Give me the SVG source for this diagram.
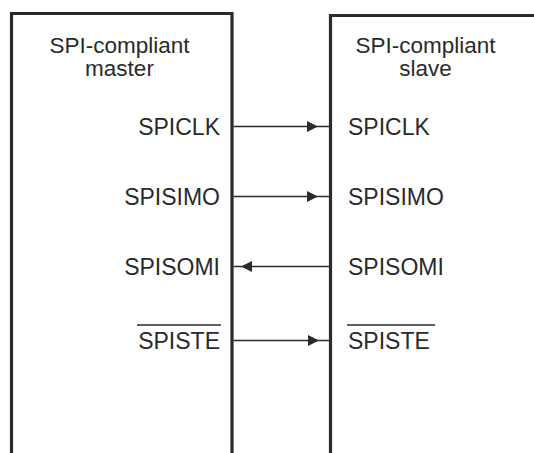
<svg xmlns="http://www.w3.org/2000/svg" width="534" height="453" viewBox="0 0 534 453">
<style>
.box{fill:none;stroke:#2a2a2a;stroke-width:3.2}
.t{font-family:"Liberation Sans",Arial,sans-serif;font-size:23px;fill:#2a2a2a}
.h{font-family:"Liberation Sans",Arial,sans-serif;font-size:22.5px;fill:#2a2a2a}
.w{stroke:#2a2a2a;stroke-width:1.3;fill:none}
.ah{fill:#2a2a2a}
.ov{stroke:#2a2a2a;stroke-width:1.6}
</style>
<rect width="534" height="453" fill="#fff"/>
<g id="master">
<path class="box" d="M11.5,460 V13.5 H232 V460"/>
<text class="h" x="119.5" y="53" text-anchor="middle">SPI-compliant</text>
<text class="h" x="119.5" y="76" text-anchor="middle">master</text>
<text class="t" x="220" y="135" text-anchor="end">SPICLK</text>
<text class="t" x="220" y="205" text-anchor="end">SPISIMO</text>
<text class="t" x="220" y="275" text-anchor="end">SPISOMI</text>
<text class="t" x="220" y="349" text-anchor="end">SPISTE</text>
<line class="ov" x1="137" y1="325" x2="221" y2="325"/>
</g>
<g id="slave">
<path class="box" d="M330.5,460 V15.5 H540"/>
<text class="h" x="425.5" y="53" text-anchor="middle">SPI-compliant</text>
<text class="h" x="425.5" y="76" text-anchor="middle">slave</text>
<text class="t" x="348" y="135">SPICLK</text>
<text class="t" x="348" y="205">SPISIMO</text>
<text class="t" x="348" y="275">SPISOMI</text>
<text class="t" x="348" y="349">SPISTE</text>
<line class="ov" x1="347" y1="325" x2="435" y2="325"/>
</g>
<g id="connectors">
<line class="w" x1="233.5" y1="126.5" x2="329" y2="126.5"/>
<polygon class="ah" points="318,126.5 307,121 307,132"/>
<line class="w" x1="233.5" y1="196.5" x2="329" y2="196.5"/>
<polygon class="ah" points="318,196.5 307,191 307,202"/>
<line class="w" x1="233.5" y1="266.5" x2="329" y2="266.5"/>
<polygon class="ah" points="241,266.5 252,261 252,272"/>
<line class="w" x1="233.5" y1="340.5" x2="329" y2="340.5"/>
<polygon class="ah" points="319,340.5 308,335 308,346"/>
</g>
</svg>
